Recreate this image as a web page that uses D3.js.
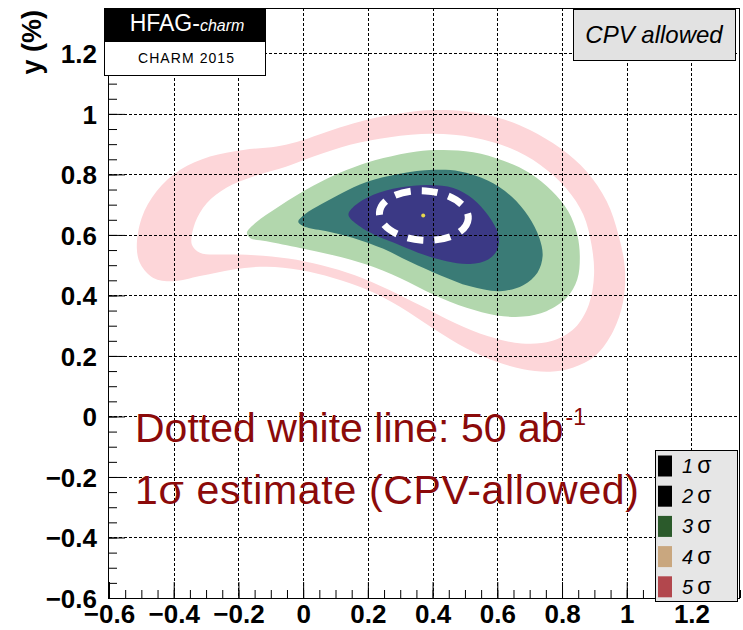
<!DOCTYPE html>
<html>
<head>
<meta charset="utf-8">
<script src="https://d3js.org/d3.v7.min.js"></script>
<style>
  html, body { margin: 0; padding: 0; background: #fff; }
  svg { display: block; }
  text { font-family: "Liberation Sans", Arial, Helvetica, sans-serif; }
</style>
</head>
<body>
<svg id="chart" width="743" height="630"></svg>
<script>
// ---------------- DATA ----------------
const xDomain = [-0.6, 1.35];
const yDomain = [-0.6, 1.35];
const xMajorTicks = [-0.6, -0.4, -0.2, 0, 0.2, 0.4, 0.6, 0.8, 1, 1.2];
const xTickLabels = ["\u22120.6", "\u22120.4", "\u22120.2", "0", "0.2", "0.4", "0.6", "0.8", "1", "1.2"];
const yMajorTicks = [-0.6, -0.4, -0.2, 0, 0.2, 0.4, 0.6, 0.8, 1, 1.2];
const yTickLabels = ["\u22120.6", "\u22120.4", "\u22120.2", "0", "0.2", "0.4", "0.6", "0.8", "1", "1.2"];
const minorStep = 0.05;

// Contour outlines, [x, y] in %
const sigma5Outer = [
  [-0.514, 0.557], [-0.499, 0.656], [-0.453, 0.744], [-0.380, 0.815], [-0.288, 0.859],
  [-0.185, 0.881], [-0.082, 0.892], [-0.020, 0.907], [0.052, 0.933], [0.134, 0.962],
  [0.227, 0.988], [0.320, 1.005], [0.402, 1.013], [0.505, 1.008], [0.608, 0.986],
  [0.701, 0.947], [0.794, 0.887], [0.876, 0.810], [0.938, 0.711], [0.974, 0.601],
  [0.994, 0.491], [0.989, 0.381], [0.958, 0.282], [0.902, 0.200], [0.835, 0.162],
  [0.763, 0.148], [0.680, 0.156], [0.598, 0.181], [0.505, 0.225], [0.402, 0.291],
  [0.299, 0.363], [0.196, 0.420], [0.093, 0.458], [-0.010, 0.484], [-0.113, 0.495],
  [-0.216, 0.486], [-0.319, 0.464], [-0.401, 0.447], [-0.463, 0.458], [-0.502, 0.502]
];
const sigma5Inner = [
  [-0.344, 0.568], [-0.334, 0.640], [-0.298, 0.705], [-0.236, 0.757], [-0.154, 0.793],
  [-0.051, 0.826], [0.032, 0.859], [0.145, 0.898], [0.268, 0.923], [0.402, 0.934],
  [0.526, 0.922], [0.639, 0.887], [0.732, 0.832], [0.814, 0.753], [0.866, 0.667],
  [0.891, 0.568], [0.899, 0.469], [0.883, 0.370], [0.840, 0.293], [0.768, 0.249],
  [0.675, 0.241], [0.572, 0.265], [0.469, 0.309], [0.366, 0.365], [0.263, 0.420],
  [0.160, 0.467], [0.057, 0.500], [-0.046, 0.522], [-0.149, 0.533], [-0.247, 0.535],
  [-0.319, 0.541]
];
const sigma3Region = [
  [-0.174, 0.607], [-0.144, 0.643], [-0.082, 0.689], [-0.010, 0.738], [0.073, 0.786],
  [0.155, 0.823], [0.248, 0.854], [0.351, 0.876], [0.433, 0.881], [0.526, 0.873],
  [0.619, 0.845], [0.701, 0.804], [0.768, 0.746], [0.819, 0.678], [0.847, 0.601],
  [0.855, 0.524], [0.847, 0.453], [0.814, 0.392], [0.752, 0.348], [0.680, 0.330],
  [0.598, 0.334], [0.505, 0.359], [0.402, 0.403], [0.299, 0.458], [0.196, 0.502],
  [0.093, 0.533], [-0.010, 0.557], [-0.113, 0.579], [-0.164, 0.590]
];
const sigma2Region = [
  [-0.015, 0.643], [0.006, 0.669], [0.057, 0.702], [0.119, 0.738], [0.196, 0.775],
  [0.299, 0.802], [0.402, 0.815], [0.485, 0.810], [0.572, 0.779], [0.644, 0.727],
  [0.696, 0.662], [0.730, 0.590], [0.740, 0.530], [0.724, 0.475], [0.680, 0.434],
  [0.608, 0.414], [0.516, 0.430], [0.423, 0.467], [0.330, 0.511], [0.248, 0.554],
  [0.155, 0.590], [0.073, 0.612], [0.011, 0.625]
];
const sigma1Region = [
  [0.140, 0.667], [0.160, 0.697], [0.217, 0.733], [0.299, 0.757], [0.392, 0.765],
  [0.464, 0.755], [0.526, 0.718], [0.572, 0.664], [0.603, 0.601], [0.600, 0.552],
  [0.572, 0.519], [0.516, 0.504], [0.443, 0.513], [0.371, 0.535], [0.299, 0.566],
  [0.227, 0.597], [0.165, 0.636]
];
// 50 ab^-1 projected 1 sigma ellipse: centre x, centre y, half-width, half-height, tilt (deg)
const projCenter = [0.373, 0.664];
const projRadii = [0.1375, 0.0816];
const projTilt = 4;
const bestFit = [0.371, 0.664];

const legendLabels = ["1", "2", "3", "4", "5"];
const legendColors = ["#000000", "#000000", "#2b5a2b", "#c9a77f", "#b2474d"];

// ---------------- DRAWING ----------------
const svg = d3.select("#chart");
const x = d3.scaleLinear().domain(xDomain).range([109, 740]);
const y = d3.scaleLinear().domain(yDomain).range([598, 8]);

const line = d3.line()
  .x(d => x(d[0])).y(d => y(d[1]))
  .curve(d3.curveCatmullRomClosed.alpha(0.5));

const gC = svg.append("g");
gC.append("path").attr("d", line(sigma5Outer)).attr("fill", "#fdd6d9");
gC.append("path").attr("d", line(sigma5Inner)).attr("fill", "#ffffff");
gC.append("path").attr("d", line(sigma3Region)).attr("fill", "#b2d7ad");
gC.append("path").attr("d", line(sigma2Region)).attr("fill", "#3a7b76");
gC.append("path").attr("d", line(sigma1Region)).attr("fill", "#3b3985");

// grid
const gridX = xMajorTicks.filter(v => v > xDomain[0]);
const gridY = yMajorTicks.filter(v => v > yDomain[0]);
const gG = svg.append("g").attr("stroke", "#000").attr("stroke-width", 1)
  .attr("stroke-dasharray", "3,2");
gG.selectAll("line.gx").data(gridX).join("line")
  .attr("x1", d => Math.round(x(d)) + 0.5).attr("x2", d => Math.round(x(d)) + 0.5)
  .attr("y1", y(yDomain[1])).attr("y2", y(yDomain[0]));
gG.selectAll("line.gy").data(gridY).join("line")
  .attr("y1", d => Math.round(y(d)) + 0.5).attr("y2", d => Math.round(y(d)) + 0.5)
  .attr("x1", x(xDomain[0])).attr("x2", x(xDomain[1]));

// projected ellipse
const ecx = x(projCenter[0]), ecy = y(projCenter[1]);
svg.append("ellipse")
  .attr("cx", ecx).attr("cy", ecy)
  .attr("rx", x(projCenter[0] + projRadii[0]) - ecx)
  .attr("ry", ecy - y(projCenter[1] + projRadii[1]))
  .attr("transform", `rotate(${projTilt},${ecx},${ecy})`)
  .attr("fill", "none").attr("stroke", "#fff").attr("stroke-width", 7)
  .attr("stroke-dasharray", "16,11");
svg.append("circle").attr("cx", x(bestFit[0])).attr("cy", y(bestFit[1]))
  .attr("r", 2).attr("fill", "#e8d84c");

// axes
const minorX = d3.range(Math.round((xDomain[1] - xDomain[0]) / minorStep) + 1)
  .map(i => +(xDomain[0] + i * minorStep).toFixed(3)).filter(v => v <= xDomain[1]);
const minorY = d3.range(Math.round((yDomain[1] - yDomain[0]) / minorStep) + 1)
  .map(i => +(yDomain[0] + i * minorStep).toFixed(3)).filter(v => v <= yDomain[1]);

const axX = svg.append("g").attr("transform", "translate(0,598)")
  .call(d3.axisBottom(x).tickValues(xMajorTicks).tickSize(-16).tickPadding(7)
    .tickFormat((d, i) => xTickLabels[i]));
const axXm = svg.append("g").attr("transform", "translate(0,598)")
  .call(d3.axisBottom(x).tickValues(minorX).tickSize(-8).tickFormat(""));
const axY = svg.append("g").attr("transform", "translate(109,0)")
  .call(d3.axisLeft(y).tickValues(yMajorTicks).tickSize(-16).tickPadding(12)
    .tickFormat((d, i) => yTickLabels[i]));
const axYm = svg.append("g").attr("transform", "translate(109,0)")
  .call(d3.axisLeft(y).tickValues(minorY).tickSize(-8).tickFormat(""));
[axX, axXm, axY, axYm].forEach(a => {
  a.select(".domain").remove();
  a.selectAll(".tick line").attr("stroke", "#000").attr("stroke-width", 1);
  a.selectAll("text").attr("font-family", "'Liberation Sans', Arial, sans-serif")
    .attr("font-size", 26).attr("font-weight", "bold").attr("fill", "#000");
});
axY.selectAll("text").attr("dy", "0.36em");

// frame
svg.append("rect")
  .attr("x", x(xDomain[0]) - 0.5).attr("y", y(yDomain[1]) + 0.5)
  .attr("width", x(xDomain[1]) - x(xDomain[0]))
  .attr("height", y(yDomain[0]) - y(yDomain[1]))
  .attr("fill", "none").attr("stroke", "#000").attr("stroke-width", 1);

// y axis title
svg.append("text").attr("transform", "translate(41,10) rotate(-90)")
  .attr("text-anchor", "end").attr("font-size", 27).attr("font-weight", "bold")
  .text("y (%)");

// annotation
const ann = svg.append("g").attr("fill", "#8b0a0a").attr("font-size", 41);
const t1 = ann.append("text").attr("x", 135).attr("y", 442);
t1.append("tspan").text("Dotted white line: 50 ab");
t1.append("tspan").attr("font-size", 23).attr("dx", 2).attr("dy", -17).text("-1");
const t2 = ann.append("text").attr("x", 135).attr("y", 504)
  .attr("textLength", 504).attr("lengthAdjust", "spacing");
t2.text("1\u03c3 estimate (CPV-allowed)");

// logo
const logo = svg.append("g");
logo.append("rect").attr("x", 104.5).attr("y", 8.5).attr("width", 161).attr("height", 67)
  .attr("fill", "#fff").attr("stroke", "#000");
logo.append("rect").attr("x", 104.5).attr("y", 8.5).attr("width", 161).attr("height", 33)
  .attr("fill", "#000").attr("stroke", "#000");
const lt = logo.append("text").attr("x", 187).attr("y", 31).attr("text-anchor", "middle")
  .attr("fill", "#fff");
lt.append("tspan").attr("font-size", 23).text("HFAG-");
lt.append("tspan").attr("font-size", 16).attr("font-style", "italic").text("charm");
logo.append("text").attr("x", 186).attr("y", 63).attr("text-anchor", "middle")
  .attr("font-size", 14).attr("fill", "#000").attr("textLength", 96)
  .text("CHARM 2015");

// CPV allowed box
svg.append("rect").attr("x", 573.5).attr("y", 9.5).attr("width", 162).attr("height", 51)
  .attr("fill", "#e2e2e2").attr("stroke", "#000");
svg.append("text").attr("x", 654).attr("y", 43).attr("text-anchor", "middle")
  .attr("font-size", 24).attr("font-style", "italic").text("CPV allowed");

// legend
const lg = svg.append("g");
lg.append("rect").attr("x", 655.5).attr("y", 450.5).attr("width", 82).attr("height", 151)
  .attr("fill", "#e6e6e6").attr("stroke", "#000");
const rows = lg.selectAll("g.row").data(legendLabels).join("g")
  .attr("transform", (d, i) => `translate(0,${466 + i * 30.2})`);
rows.append("rect").attr("x", 658).attr("y", -10.5).attr("width", 14).attr("height", 21)
  .attr("fill", (d, i) => legendColors[i]);
const rt = rows.append("text").attr("x", 682).attr("y", 7);
rt.append("tspan").attr("font-size", 20).attr("font-style", "italic").text(d => d);
rt.append("tspan").attr("font-size", 23).attr("dx", 4).text("\u03c3");
</script>
</body>
</html>
